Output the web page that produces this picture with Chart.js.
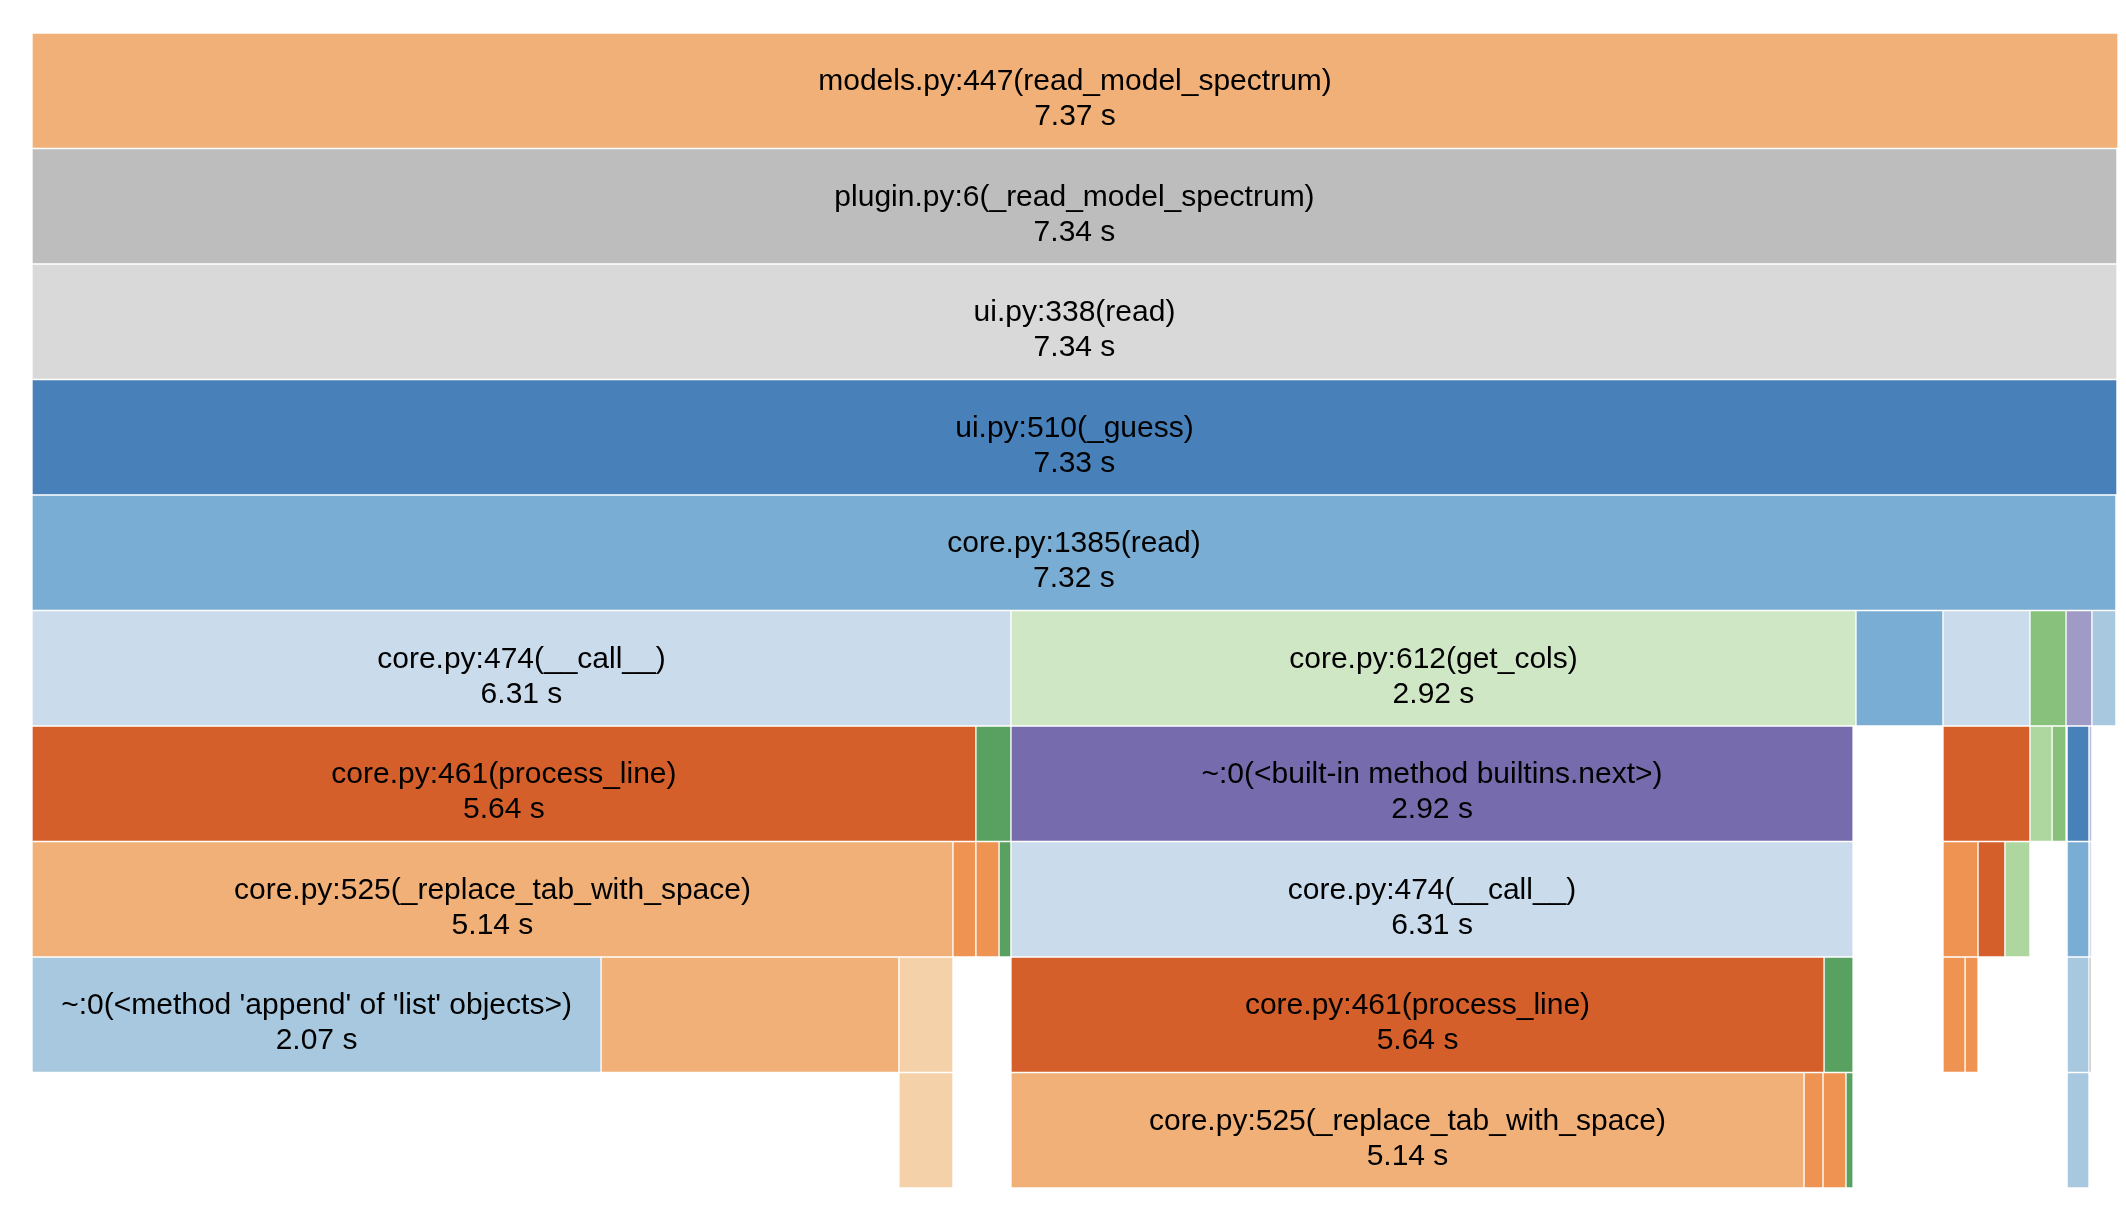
<!DOCTYPE html>
<html>
<head>
<meta charset="utf-8">
<title>Profile icicle</title>
<script src="https://cdn.jsdelivr.net/npm/chart.js@4/dist/chart.umd.min.js"></script>
<style>
	html, body { margin: 0; padding: 0; background: #fff; }
	#wrap { width: 2126px; height: 1212px; position: relative; }
</style>
</head>
<body>
<div id="wrap"><canvas id="chart"></canvas></div>
<script>
// Call-stack depth of every frame (0 = root).
var depths = ['d0', 'd1', 'd2', 'd3', 'd4', 'd5', 'd6', 'd7', 'd8', 'd9'];

// One entry per frame: depth, start and end as a share (%) of the root frame.
var frameDepth = [
	0, 1, 2, 3, 4,
	5, 5, 5, 5, 5, 5, 5,
	6, 6, 6, 6, 6, 6, 6, 6,
	7, 7, 7, 7, 7, 7, 7, 7, 7, 7,
	8, 8, 8, 8, 8, 8, 8, 8, 8,
	9, 9, 9, 9, 9, 9
];
var frameStart = [
	0, 0, 0, 0, 0,
	0, 46.93, 87.44, 91.61, 95.78, 97.51, 98.75,
	0, 45.25, 46.93, 91.61, 95.78, 96.84, 97.56, 98.61,
	0, 44.15, 45.25, 46.36, 46.93, 91.61, 93.29, 94.58, 97.56, 98.61,
	0, 27.28, 41.56, 46.93, 85.91, 91.61, 92.67, 97.56, 98.61,
	41.56, 46.93, 84.95, 85.86, 86.96, 97.56
];
var frameEnd = [
	100, 99.95, 99.95, 99.95, 99.9,
	46.93, 87.44, 91.61, 95.78, 97.51, 98.75, 99.9,
	45.25, 46.93, 87.30, 95.78, 96.84, 97.51, 98.61, 98.75,
	44.15, 45.25, 46.36, 46.93, 87.30, 93.29, 94.58, 95.78, 98.61, 98.75,
	27.28, 41.56, 44.15, 85.91, 87.30, 92.67, 93.29, 98.61, 98.71,
	44.15, 84.95, 85.86, 86.96, 87.30, 98.61
];
var frameName = [
	'models.py:447(read_model_spectrum)', 'plugin.py:6(_read_model_spectrum)', 'ui.py:338(read)', 'ui.py:510(_guess)', 'core.py:1385(read)',
	'core.py:474(__call__)', 'core.py:612(get_cols)', '', '', '', '', '',
	'core.py:461(process_line)', '', '~:0(<built-in method builtins.next>)', '', '', '', '', '',
	'core.py:525(_replace_tab_with_space)', '', '', '', 'core.py:474(__call__)', '', '', '', '', '',
	"~:0(<method 'append' of 'list' objects>)", '', '', 'core.py:461(process_line)', '', '', '', '', '',
	'', 'core.py:525(_replace_tab_with_space)', '', '', '', ''
];
var frameTime = [
	'7.37 s', '7.34 s', '7.34 s', '7.33 s', '7.32 s',
	'6.31 s', '2.92 s', '', '', '', '', '',
	'5.64 s', '', '2.92 s', '', '', '', '', '',
	'5.14 s', '', '', '', '6.31 s', '', '', '', '', '',
	'2.07 s', '', '', '5.64 s', '', '', '', '', '',
	'', '5.14 s', '', '', '', ''
];
var frameColor = [
	'orange3', 'grey1', 'grey3', 'blue1', 'blue2',
	'blue4', 'green4', 'blue2', 'blue4', 'green2', 'purple2', 'blue3',
	'orange1', 'green1', 'purple1', 'orange1', 'green3', 'green2', 'blue1', 'purple3',
	'orange3', 'orange2', 'orange2', 'green1', 'blue4', 'orange2', 'orange1', 'green3', 'blue2', 'purple4',
	'blue3', 'orange3', 'orange4', 'orange1', 'green1', 'orange2', 'orange2', 'blue3', 'grey2',
	'orange4', 'orange3', 'orange2', 'orange2', 'green1', 'blue3'
];

var palette = {
	orange1: '#d45f2a', orange2: '#ee9351', orange3: '#f1b077', orange4: '#f4d1a8',
	blue1: '#4881b9', blue2: '#7aadd3', blue3: '#a7c8de', blue4: '#cadbec',
	green1: '#58a160', green2: '#88c17c', green3: '#aed7a0', green4: '#d0e7c6',
	purple1: '#766cad', purple2: '#a09bc6', purple3: '#bfbedc', purple4: '#dcdbeb',
	grey1: '#bdbdbd', grey2: '#969696', grey3: '#d9d9d9'
};

var frames = frameDepth.map(function(d, i) {
	return { x: [frameStart[i], frameEnd[i]], y: depths[d] };
});

// Writes the function name and its time in the middle of each labelled frame.
var frameLabels = {
	id: 'frameLabels',
	afterDatasetsDraw: function(chart) {
		var ctx = chart.ctx,
			meta = chart.getDatasetMeta(0);

		ctx.save();
		ctx.fillStyle = '#000';
		ctx.textAlign = 'center';
		ctx.textBaseline = 'alphabetic';
		ctx.font = '30px "Liberation Sans", Arial, Helvetica, sans-serif';
		meta.data.forEach(function(bar, i) {
			if (!frameName[i]) return;
			var p = bar.getProps(['x', 'y', 'base', 'height'], true),
				cx = (p.x + p.base) / 2,
				top = p.y - p.height / 2;
			ctx.fillText(frameName[i], cx, top + 57);
			ctx.fillText(frameTime[i], cx, top + 92);
		});
		ctx.restore();
	}
};

new Chart(document.getElementById('chart'), {
	type: 'bar',
	data: {
		labels: depths,
		datasets: [{
			data: frames,
			backgroundColor: function(c) { return palette[frameColor[c.dataIndex]]; },
			borderColor: 'rgba(255,255,255,0.95)',
			borderWidth: 1,
			borderSkipped: false,
			categoryPercentage: 1,
			barPercentage: 1
		}]
	},
	options: {
		indexAxis: 'y',
		responsive: true,
		maintainAspectRatio: false,
		animation: false,
		layout: { padding: { left: 32, right: 8, top: 33, bottom: 24 } },
		scales: {
			x: { type: 'linear', min: 0, max: 100, display: false },
			y: { type: 'category', display: false }
		},
		plugins: {
			legend: { display: false },
			tooltip: { enabled: false }
		}
	},
	plugins: [frameLabels]
});
</script>
</body>
</html>
